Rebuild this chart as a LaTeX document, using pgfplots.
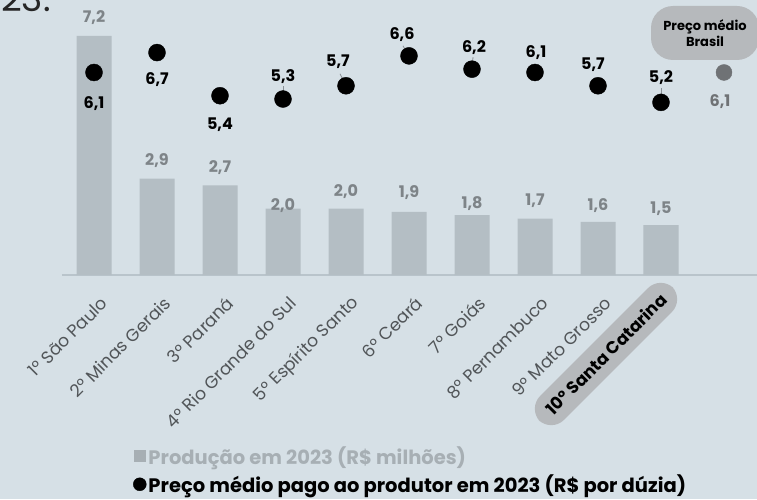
\documentclass[border=0pt]{standalone}
\usepackage{fontspec}
\setmainfont{Poppins}
\usepackage{pgfplots}
\pgfplotsset{compat=1.18}

\definecolor{bgcol}{HTML}{D6E0E6}
\definecolor{barcol}{HTML}{B4BEC4}
\definecolor{axcol}{HTML}{B9C4CB}
\definecolor{tickcol}{HTML}{515558}
\definecolor{valcol}{HTML}{7E8488}
\definecolor{legcol}{HTML}{A7AFB4}
\definecolor{pillcol}{HTML}{B6B9BC}
\definecolor{brcol}{HTML}{6F7275}
\definecolor{leadcol}{HTML}{8A9095}

\begin{document}
\begin{tikzpicture}
\useasboundingbox (0pt,0pt) rectangle (757pt,499pt);
\clip (0pt,0pt) rectangle (757pt,499pt);
\fill[bgcol] (0pt,0pt) rectangle (757pt,499pt);
% remnant of the title above
\node[anchor=base west, inner sep=0pt, text=black!85, font=\fontsize{36}{36}\selectfont] at (1pt,487pt) {23.};

\begin{axis}[
    at={(62pt,224pt)}, anchor=south west,
    scale only axis,
    width=695pt, height=275pt,
    xmin=-0.508, xmax=10.524,
    ymin=0, ymax=8.283,
    axis x line=bottom,
    axis y line=none,
    x axis line style={draw=axcol, line width=1.5pt, -},
    major tick length=0pt,
    ytick=\empty,
    xtick={0,...,8},
    xticklabels={1º São Paulo, 2º Minas Gerais, 3º Paraná, 4º Rio Grande do Sul,
        5º Espírito Santo, 6º Ceará, 7º Goiás, 8º Pernambuco, 9º Mato Grosso},
    xticklabel style={rotate=45, anchor=east, text=tickcol,
        font=\fontsize{17.3}{17.3}\selectfont, xshift=-7pt, yshift=-25pt},
    clip=false,
    legend style={at={(0.102,-0.615)}, anchor=north west, draw=none, fill=none,
        inner sep=0pt, row sep=5pt,
        font=\bfseries\fontsize{19.5}{19.5}\selectfont},
    legend cell align=left,
]
% Produção em 2023 (R$ milhões)
\addplot[ybar, bar width=35pt, fill=barcol, draw=none,
    legend image code/.code={\fill[legcol] (0pt,-6pt) rectangle (12pt,6pt);}]
    coordinates {
(0, 7.2)
(1, 2.9)
(2, 2.7)
(3, 2.0)
(4, 2.0)
(5, 1.9)
(6, 1.8)
(7, 1.7)
(8, 1.6)
(9, 1.5)
    };
\addlegendentry{\textcolor{legcol}{Produção em 2023 (R\$ milhões)}}

% leader lines
\draw[leadcol, line width=0.8pt] (axis cs:3,5.3) -- ++(0pt,13pt);
\draw[leadcol, line width=0.8pt] (axis cs:4,5.7) -- ++(-6pt,12pt);
\draw[leadcol, line width=0.8pt] (axis cs:5,6.6) -- ++(-6pt,10pt);
\draw[leadcol, line width=0.8pt] (axis cs:6,6.2) -- ++(1pt,12pt);
\draw[leadcol, line width=0.8pt] (axis cs:9,5.2) -- ++(0pt,14pt);

% Preço médio pago ao produtor em 2023 (R$ por dúzia)
\addplot[only marks, mark=*, mark size=8.5pt, black,
    legend image code/.code={\fill[black] (6pt,0pt) circle (6.5pt);}]
    coordinates {
(0, 6.1)
(1, 6.7)
(2, 5.4)
(3, 5.3)
(4, 5.7)
(5, 6.6)
(6, 6.2)
(7, 6.1)
(8, 5.7)
(9, 5.2)
    };
\addlegendentry{Preço médio pago ao produtor em 2023 (R\$ por dúzia)}

% Preço médio Brasil
\addplot[only marks, mark=*, mark size=8pt, brcol, forget plot]
    coordinates {(10, 6.1)};

% bar values
\begin{scope}[every node/.style={text=valcol, font=\bfseries\fontsize{16}{16}\selectfont}]
\node at ([yshift=18pt]axis cs:0,7.2) {7,2};
\node at ([yshift=18pt]axis cs:1,2.9) {2,9};
\node at ([yshift=18pt]axis cs:2,2.7) {2,7};
\node at ([yshift=3pt]axis cs:3,2.0) {2,0};
\node at ([yshift=17pt]axis cs:4,2.0) {2,0};
\node at ([yshift=19pt]axis cs:5,1.9) {1,9};
\node at ([yshift=12pt]axis cs:6,1.8) {1,8};
\node at ([yshift=18pt]axis cs:7,1.7) {1,7};
\node at ([yshift=16pt]axis cs:8,1.6) {1,6};
\node at ([yshift=17pt]axis cs:9,1.5) {1,5};
\end{scope}

% price values
\begin{scope}[every node/.style={text=black, font=\bfseries\fontsize{16}{16}\selectfont}]
\node at ([yshift=-31pt]axis cs:0,6.1) {6,1};
\node at ([yshift=-27pt]axis cs:1,6.7) {6,7};
\node at ([yshift=-29pt]axis cs:2,5.4) {5,4};
\node at ([yshift=22pt]axis cs:3,5.3) {5,3};
\node at ([xshift=-8pt,yshift=24pt]axis cs:4,5.7) {5,7};
\node at ([xshift=-7pt,yshift=21pt]axis cs:5,6.6) {6,6};
\node at ([xshift=2pt,yshift=22pt]axis cs:6,6.2) {6,2};
\node at ([xshift=1pt,yshift=20pt]axis cs:7,6.1) {6,1};
\node at ([xshift=-5pt,yshift=21pt]axis cs:8,5.7) {5,7};
\node at ([yshift=25pt]axis cs:9,5.2) {5,2};
\node[text=brcol] at ([xshift=-4pt,yshift=-29pt]axis cs:10,6.1) {6,1};
\end{scope}

% highlighted category
\node[rotate=45, fill=pillcol, rounded corners=18pt, inner xsep=13pt, inner ysep=10pt,
    text=black, font=\bfseries\fontsize{17}{17}\selectfont]
    at ([xshift=-55pt,yshift=-79pt]axis cs:9,0) {10º Santa Catarina};
\end{axis}

\node[fill=pillcol, rounded corners=22pt, minimum width=108pt, minimum height=54pt,
    align=center, text=black, font=\bfseries\fontsize{13}{16.5}\selectfont]
    at (705pt,466pt) {Preço médio\\Brasil};
\end{tikzpicture}
\end{document}
